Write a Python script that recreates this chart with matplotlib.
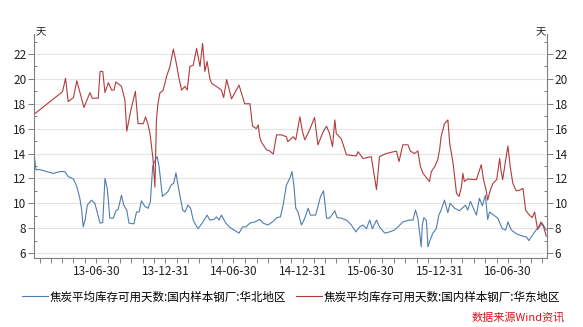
import matplotlib
matplotlib.use("Agg")
import matplotlib.pyplot as plt
import matplotlib.dates as mdates
from matplotlib.ticker import MultipleLocator
import pandas as pd

plt.rcParams['font.family'] = ['Noto Sans CJK SC', 'DejaVu Sans']
plt.rcParams['axes.unicode_minus'] = False

# 华北地区
north_dates = [
    "2013-01-15", "2013-01-20", "2013-01-31", "2013-03-07", "2013-03-25", "2013-04-07",
    "2013-04-16", "2013-04-30", "2013-05-09", "2013-05-17", "2013-05-22", "2013-05-26",
    "2013-05-31", "2013-06-06", "2013-06-17", "2013-06-26", "2013-07-10", "2013-07-17",
    "2013-07-23", "2013-07-29", "2013-08-05", "2013-08-14", "2013-08-21", "2013-08-27",
    "2013-09-05", "2013-09-11", "2013-09-19", "2013-09-25", "2013-10-08", "2013-10-15",
    "2013-10-22", "2013-10-28", "2013-11-06", "2013-11-15", "2013-11-21", "2013-11-27",
    "2013-11-30", "2013-12-06", "2013-12-09", "2013-12-14", "2013-12-23", "2014-01-07",
    "2014-01-16", "2014-01-22", "2014-01-28", "2014-02-03", "2014-02-15", "2014-02-21",
    "2014-03-01", "2014-03-08", "2014-03-15", "2014-03-19", "2014-03-28", "2014-04-10",
    "2014-04-21", "2014-04-28", "2014-05-09", "2014-05-16", "2014-05-23", "2014-05-29",
    "2014-06-10", "2014-06-19", "2014-06-29", "2014-07-15", "2014-07-24", "2014-08-02",
    "2014-08-13", "2014-08-26", "2014-09-08", "2014-09-17", "2014-09-30", "2014-10-14",
    "2014-10-24", "2014-11-02", "2014-11-09", "2014-11-18", "2014-11-27", "2014-12-03",
    "2014-12-08", "2014-12-13", "2014-12-19", "2014-12-28", "2015-01-06", "2015-01-15",
    "2015-01-21", "2015-02-04", "2015-02-17", "2015-02-25", "2015-03-05", "2015-03-13",
    "2015-03-27", "2015-04-02", "2015-04-13", "2015-04-27", "2015-05-10", "2015-05-22",
    "2015-06-01", "2015-06-10", "2015-06-19", "2015-06-28", "2015-07-05", "2015-07-16",
    "2015-07-24", "2015-08-07", "2015-08-20", "2015-09-02", "2015-09-16", "2015-09-24",
    "2015-10-12", "2015-10-21", "2015-10-28", "2015-11-03", "2015-11-08", "2015-11-12",
    "2015-11-15", "2015-11-19", "2015-11-26", "2015-11-30", "2015-12-04", "2015-12-13",
    "2015-12-22", "2015-12-29", "2016-01-04", "2016-01-13", "2016-01-18", "2016-01-22",
    "2016-01-28", "2016-02-09", "2016-02-22", "2016-03-09", "2016-03-15", "2016-03-22",
    "2016-04-07", "2016-04-15", "2016-04-23", "2016-05-01", "2016-05-07", "2016-05-12",
    "2016-05-23", "2016-06-03", "2016-06-15", "2016-06-24", "2016-06-30", "2016-07-09",
    "2016-07-22", "2016-08-09", "2016-08-18", "2016-08-25", "2016-08-31", "2016-09-13",
    "2016-09-22", "2016-09-29", "2016-10-05", "2016-10-10",
]
north_days = [
    14.0, 12.7, 12.7, 12.4, 12.55, 12.55,
    12.15, 11.95, 11.35, 10.4, 9.45, 8.1,
    8.65, 9.85, 10.25, 10.0, 8.4, 8.45,
    12.0, 11.2, 8.8, 8.8, 9.4, 9.5,
    10.65, 9.85, 9.45, 8.4, 8.35, 9.3,
    9.3, 10.2, 9.75, 9.6, 10.15, 12.95,
    13.2, 13.6, 13.75, 12.95, 10.55, 10.95,
    11.5, 11.6, 12.45, 11.35, 9.45, 9.3,
    9.85, 9.6, 8.65, 8.4, 7.95, 8.5,
    9.05, 8.65, 8.7, 8.9, 8.65, 9.05,
    8.4, 8.1, 7.9, 7.6, 8.1, 8.1,
    8.4, 8.5, 8.7, 8.4, 8.25, 8.55,
    8.85, 8.9, 9.8, 11.45, 12.0, 12.55,
    11.45, 9.6, 9.3, 8.25, 8.8, 9.6,
    9.05, 9.05, 10.55, 11.0, 8.8, 8.8,
    9.4, 8.85, 8.8, 8.65, 8.25, 7.7,
    8.1, 8.25, 7.95, 8.65, 7.95, 8.65,
    8.1, 7.6, 7.7, 7.85, 8.25, 8.5,
    8.65, 8.65, 9.45, 8.8, 7.6, 6.5,
    8.25, 8.85, 8.6, 6.5, 6.9, 7.6,
    7.95, 9.05, 9.45, 10.25, 9.7, 9.25,
    10.0, 9.6, 9.4, 9.85, 9.45, 10.15,
    9.05, 10.4, 9.8, 10.65, 8.7, 9.3,
    9.05, 8.8, 7.95, 7.85, 8.5, 7.85,
    7.55, 7.35, 7.3, 7.0, 7.3, 7.85,
    8.1, 8.4, 8.1, 7.85,
]

# 华东地区
east_dates = [
    "2013-01-15", "2013-04-01", "2013-04-09", "2013-04-16", "2013-04-30", "2013-05-09",
    "2013-05-28", "2013-06-13", "2013-06-19", "2013-07-05", "2013-07-10", "2013-07-17",
    "2013-07-23", "2013-08-01", "2013-08-10", "2013-08-16", "2013-08-21", "2013-09-05",
    "2013-09-14", "2013-09-19", "2013-09-30", "2013-10-12", "2013-10-19", "2013-11-02",
    "2013-11-08", "2013-11-14", "2013-11-20", "2013-11-28", "2013-12-03", "2013-12-07",
    "2013-12-11", "2013-12-16", "2013-12-25", "2014-01-03", "2014-01-12", "2014-01-21",
    "2014-01-28", "2014-02-05", "2014-02-12", "2014-02-21", "2014-02-27", "2014-03-06",
    "2014-03-15", "2014-03-24", "2014-04-02", "2014-04-09", "2014-04-15", "2014-04-21",
    "2014-04-28", "2014-05-03", "2014-05-20", "2014-05-29", "2014-06-04", "2014-06-12",
    "2014-06-25", "2014-07-15", "2014-07-30", "2014-08-13", "2014-08-20", "2014-08-30",
    "2014-09-04", "2014-09-08", "2014-09-12", "2014-09-26", "2014-10-05", "2014-10-14",
    "2014-10-23", "2014-11-05", "2014-11-18", "2014-11-22", "2014-12-06", "2014-12-13",
    "2014-12-24", "2014-12-31", "2015-01-06", "2015-01-19", "2015-02-01", "2015-02-10",
    "2015-02-24", "2015-03-05", "2015-03-13", "2015-03-21", "2015-03-27", "2015-03-31",
    "2015-04-13", "2015-04-27", "2015-05-23", "2015-05-28", "2015-06-10", "2015-07-02",
    "2015-07-16", "2015-07-24", "2015-08-11", "2015-09-07", "2015-09-14", "2015-09-20",
    "2015-09-24", "2015-10-08", "2015-10-14", "2015-10-25", "2015-11-03", "2015-11-10",
    "2015-11-17", "2015-11-30", "2015-12-04", "2015-12-09", "2015-12-18", "2015-12-26",
    "2015-12-31", "2016-01-04", "2016-01-13", "2016-01-22", "2016-01-27", "2016-02-05",
    "2016-02-14", "2016-02-21", "2016-02-27", "2016-03-02", "2016-03-06", "2016-03-15",
    "2016-04-07", "2016-04-20", "2016-04-26", "2016-05-03", "2016-05-07", "2016-05-14",
    "2016-05-21", "2016-05-31", "2016-06-08", "2016-06-12", "2016-06-16", "2016-06-24",
    "2016-06-30", "2016-07-06", "2016-07-13", "2016-07-22", "2016-07-31", "2016-08-09",
    "2016-08-16", "2016-08-26", "2016-09-03", "2016-09-09", "2016-09-17", "2016-09-26",
    "2016-10-03", "2016-10-10",
]
east_days = [
    17.15, 18.97, 20.05, 18.17, 18.5, 19.85,
    17.7, 18.9, 18.45, 18.45, 20.6, 20.6,
    18.9, 19.7, 19.1, 19.1, 19.75, 19.4,
    18.3, 15.8, 17.5, 19.0, 16.4, 16.4,
    16.95, 16.4, 15.6, 13.5, 11.3, 16.7,
    18.0, 18.85, 19.1, 20.2, 21.0, 22.4,
    21.4, 20.05, 19.1, 19.4, 19.1, 21.0,
    21.1, 22.45, 21.0, 22.85, 20.6, 21.4,
    20.05, 19.65, 19.3, 19.1, 18.5, 19.95,
    18.4, 19.5, 18.0, 18.0, 16.2, 16.0,
    16.3, 15.35, 14.95, 14.3, 14.2, 13.95,
    15.5, 15.5, 15.35, 14.95, 15.35, 15.1,
    16.95, 15.75, 15.1, 15.9, 16.9, 14.7,
    15.75, 16.2, 15.6, 14.55, 16.7, 15.6,
    15.2, 13.9, 13.8, 14.15, 13.6, 13.75,
    11.1, 13.75, 14.0, 14.2, 13.35, 14.15,
    14.7, 14.7, 14.2, 14.0, 14.2, 12.95,
    12.4, 11.9, 11.75, 12.55, 12.95, 13.5,
    14.3, 15.35, 16.4, 16.7, 14.8, 13.2,
    10.8, 10.55, 11.3, 12.4, 11.75, 11.95,
    11.9, 13.1, 11.9, 11.05, 10.25, 11.05,
    11.6, 11.9, 13.6, 12.55, 11.9, 13.5,
    14.6, 12.95, 11.6, 11.0, 11.05, 11.2,
    9.45, 9.05, 8.85, 9.3, 7.9, 8.5,
    8.1, 7.35,
]

north_label = "焦炭平均库存可用天数:国内样本钢厂:华北地区"
east_label = "焦炭平均库存可用天数:国内样本钢厂:华东地区"
unit_label = "天"
source_note = "数据来源Wind资讯"

north_color = "#4f7db0"
east_color = "#b23a3d"
axis_gray = "#7f7f7f"

W, H = 583, 327
fig = plt.figure(figsize=(W / 100, H / 100), dpi=100)
ax = fig.add_axes([34 / W, 1 - 257.5 / H, (547 - 34) / W, (257.5 - 33.5) / H])

ax.plot(pd.to_datetime(north_dates), north_days, color=north_color, lw=0.8, label=north_label)
ax.plot(pd.to_datetime(east_dates), east_days, color=east_color, lw=0.8, label=east_label)

ax.set_xlim(pd.Timestamp("2013-01-15"), pd.Timestamp("2016-10-12"))
ax.set_ylim(5.64, 23.65)

# y axis: labels on both sides
ax.yaxis.set_major_locator(MultipleLocator(2))
ax.yaxis.set_minor_locator(MultipleLocator(1))
ax.tick_params(axis='y', which='major', direction='out', length=4, width=0.7,
               color=axis_gray, labelsize=8.5, left=True, right=True,
               labelleft=True, labelright=True, pad=1.5, labelcolor='#222222')
ax.tick_params(axis='y', which='minor', direction='in', length=2.5, width=0.7,
               color=axis_gray, left=True, right=True)

# x axis: month-end ticks, labels every half year
ax.xaxis.set_major_locator(mdates.MonthLocator(bymonth=[6, 12], bymonthday=-1))
ax.xaxis.set_minor_locator(mdates.MonthLocator(bymonthday=-1))
ax.xaxis.set_major_formatter(mdates.DateFormatter("%y-%m-%d"))
ax.tick_params(axis='x', which='both', direction='out', length=3.5, width=0.7,
               color=axis_gray, labelsize=8.5, pad=2, labelcolor='#222222')

ax.grid(axis='y', which='major', color='#e4e4e4', lw=0.8)
ax.set_axisbelow(True)
for side in ('left', 'right', 'bottom'):
    ax.spines[side].set_color(axis_gray)
    ax.spines[side].set_linewidth(0.8)
ax.spines['top'].set_visible(False)

fig.text(36 / W, 1 - 32.5 / H, unit_label, fontsize=7.5, ha='left', va='center', color='#222222')
fig.text(546 / W, 1 - 32.5 / H, unit_label, fontsize=7.5, ha='right', va='center', color='#222222')

fig.legend(loc='center', bbox_to_anchor=(291 / W, 1 - 297 / H), ncol=2, frameon=False,
           fontsize=8.3, handlelength=2.3, handletextpad=0.15, columnspacing=0.8,
           borderaxespad=0, borderpad=0)

fig.text(565 / W, 1 - 317 / H, source_note, fontsize=8, color='#e3101c', style='italic',
         ha='right', va='center')

fig.savefig("out.png", dpi=100)
